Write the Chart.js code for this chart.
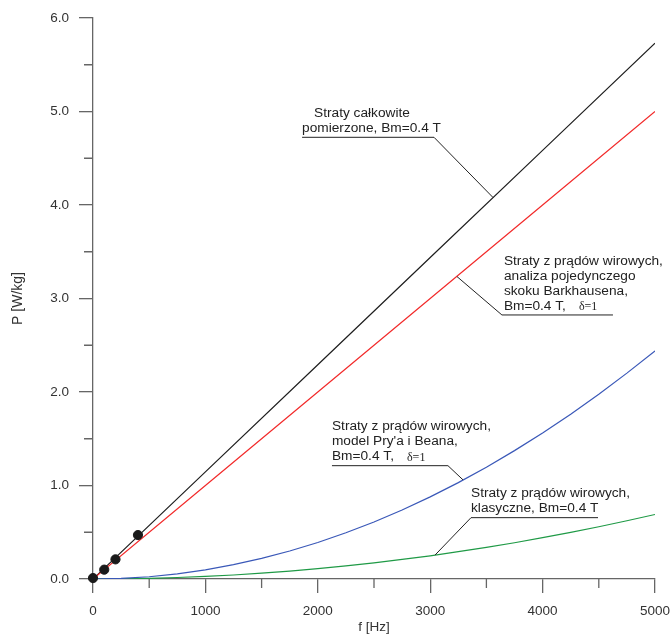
<!DOCTYPE html>
<html>
<head>
<meta charset="utf-8">
<script src="https://cdn.jsdelivr.net/npm/chart.js@4.4.1/dist/chart.umd.min.js"></script>
<style>
  html, body { margin: 0; padding: 0; background: #fff; }
  canvas { display: block; }
</style>
</head>
<body>
<canvas id="myChart" width="670" height="635"></canvas>
<script>
// measured total losses (dots)
const measFreq = [0, 100, 200, 400];
const measLoss = [0.01, 0.10, 0.21, 0.47];

// straight lines
const lineFreq = [0, 1000, 2000, 3000, 4000, 5000];
const totalLoss = [0, 1.146, 2.292, 3.438, 4.584, 5.73];
const barkhausenLoss = [0, 1.0, 2.0, 3.0, 4.0, 5.0];

// curved ones
const curveFreq = [0, 250, 500, 750, 1000, 1250, 1500, 1750, 2000, 2250, 2500,
  2750, 3000, 3250, 3500, 3750, 4000, 4250, 4500, 4750, 5000];
const pryBeanLoss = [0, 0.006, 0.024, 0.055, 0.098, 0.153, 0.22, 0.299, 0.39, 0.494, 0.61,
  0.738, 0.878, 1.031, 1.196, 1.373, 1.562, 1.763, 1.976, 2.202, 2.44];
const classicLoss = [0, 0.002, 0.007, 0.016, 0.028, 0.043, 0.062, 0.085, 0.11, 0.14, 0.173,
  0.209, 0.248, 0.292, 0.338, 0.388, 0.442, 0.499, 0.559, 0.623, 0.69];

const xTickLabels = [0, 1000, 2000, 3000, 4000, 5000];
const yTickLabels = [0, 1, 2, 3, 4, 5, 6];

const FONT = '"Liberation Sans", Arial, sans-serif';
const AXIS = '#666';

function pts(xs, ys) {
  return xs.map((x, i) => ({ x: x, y: ys[i] }));
}

// callouts: underline from -> to, elbow joins the curve at hit
const callouts = [
  { lines: ['Straty całkowite', 'pomierzone, Bm=0.4 T'], indent: [12, 0],
    from: [1860, 4.724], to: [3034, 4.724], elbow: 'right', hit: [3559, 4.08] },
  { lines: ['Straty z prądów wirowych,', 'analiza pojedynczego', 'skoku Barkhausena,', 'Bm=0.4 T,'], indent: [2, 2, 2, 2],
    delta: true, from: [3638, 2.824], to: [4626, 2.824], elbow: 'left', hit: [3238, 3.235] },
  { lines: ['Straty z prądów wirowych,', 'model Pry\'a i Beana,', 'Bm=0.4 T,'], indent: [0, 0, 0],
    delta: true, from: [2126, 1.212], to: [3158, 1.212], elbow: 'right', hit: [3292, 1.06] },
  { lines: ['Straty z prądów wirowych,', 'klasyczne, Bm=0.4 T'], indent: [0, 0],
    from: [3363, 0.656], to: [4493, 0.656], elbow: 'left', hit: [3043, 0.256] }
];

const extras = {
  id: 'extras',
  afterDraw(chart) {
    const ctx = chart.ctx;
    const xs = chart.scales.x, ys = chart.scales.y;
    const area = chart.chartArea;
    ctx.save();
    // minor ticks
    ctx.strokeStyle = AXIS;
    ctx.lineWidth = 1.3;
    ctx.beginPath();
    xs.ticks.forEach(t => {
      if (t.value % 1000 !== 0) {
        const p = xs.getPixelForValue(t.value);
        ctx.moveTo(p, area.bottom);
        ctx.lineTo(p, area.bottom + 9);
      }
    });
    ys.ticks.forEach(t => {
      if (t.value % 1 !== 0) {
        const p = ys.getPixelForValue(t.value);
        ctx.moveTo(area.left, p);
        ctx.lineTo(area.left - 9, p);
      }
    });
    ctx.stroke();

    // callouts
    callouts.forEach(c => {
      const x1 = xs.getPixelForValue(c.from[0]);
      const x2 = xs.getPixelForValue(c.to[0]);
      const y = ys.getPixelForValue(c.from[1]);
      const hx = xs.getPixelForValue(c.hit[0]);
      const hy = ys.getPixelForValue(c.hit[1]);
      const ex = c.elbow === 'left' ? x1 : x2;
      ctx.strokeStyle = '#222';
      ctx.lineWidth = 1;
      ctx.beginPath();
      ctx.moveTo(x1, y);
      ctx.lineTo(x2, y);
      ctx.moveTo(ex, y);
      ctx.lineTo(hx, hy);
      ctx.stroke();

      ctx.fillStyle = '#222';
      ctx.textBaseline = 'middle';
      ctx.textAlign = 'left';
      const n = c.lines.length;
      c.lines.forEach((txt, i) => {
        const ty = y - 9 - (n - 1 - i) * 15;
        const tx = x1 + c.indent[i];
        ctx.font = '13.7px ' + FONT;
        ctx.fillText(txt, tx, ty);
        if (c.delta && i === n - 1) {
          const w = ctx.measureText(txt).width;
          ctx.font = '12px "Liberation Serif", "Times New Roman", serif';
          ctx.fillText('δ=1', tx + w + 13, ty + 1);
        }
      });
    });
    ctx.restore();
  }
};

const ctx = document.getElementById('myChart');
const myChart = new Chart(ctx, {
  type: 'scatter',
  data: {
    datasets: [
      {
        label: 'pomiar',
        data: pts(measFreq, measLoss),
        showLine: false,
        pointRadius: 4.6,
        pointBackgroundColor: '#1a1a1a',
        pointBorderColor: '#1a1a1a',
        clip: false,
        order: 0
      },
      {
        label: 'Straty całkowite',
        data: pts(lineFreq, totalLoss),
        showLine: true,
        borderColor: '#1e1e1e',
        borderWidth: 1.2,
        pointRadius: 0,
        order: 2
      },
      {
        label: 'Barkhausen',
        data: pts(lineFreq, barkhausenLoss),
        showLine: true,
        borderColor: '#f22a2a',
        borderWidth: 1.2,
        pointRadius: 0,
        order: 1
      },
      {
        label: 'Pry i Bean',
        data: pts(curveFreq, pryBeanLoss),
        showLine: true,
        borderColor: '#3a58b8',
        borderWidth: 1.2,
        pointRadius: 0,
        order: 3
      },
      {
        label: 'klasyczne',
        data: pts(curveFreq, classicLoss),
        showLine: true,
        borderColor: '#1f9a46',
        borderWidth: 1.2,
        pointRadius: 0,
        order: 4
      }
    ]
  },
  options: {
    responsive: false,
    animation: false,
    layout: { padding: { left: 0, right: 15, top: 18, bottom: 0 } },
    plugins: {
      legend: { display: false },
      tooltip: { enabled: false }
    },
    scales: {
      x: {
        type: 'linear',
        min: 0,
        max: 5000,
        afterFit: s => {
          s.height = 56;
          s.paddingLeft = 0;
          s.paddingRight = 0;
        },
        border: { display: true, color: AXIS, width: 1.3 },
        grid: {
          drawOnChartArea: false,
          tickLength: 14,
          lineWidth: 1.3,
          color: c => (c.tick && c.tick.value % 1000 === 0) ? AXIS : 'rgba(0,0,0,0)'
        },
        ticks: {
          stepSize: 500,
          autoSkip: false,
          maxRotation: 0,
          padding: 10,
          color: '#333',
          font: { family: FONT, size: 13.5 },
          callback: v => xTickLabels.includes(v) ? String(v) : ''
        },
        title: {
          display: true,
          text: 'f [Hz]',
          color: '#333',
          font: { family: FONT, size: 13.5 },
          padding: { top: 0, bottom: 0 }
        }
      },
      y: {
        type: 'linear',
        min: 0,
        max: 6,
        afterFit: s => {
          s.width = 93;
          s.paddingTop = 0;
          s.paddingBottom = 0;
        },
        border: { display: true, color: AXIS, width: 1.3 },
        grid: {
          drawOnChartArea: false,
          tickLength: 14,
          lineWidth: 1.3,
          color: c => (c.tick && c.tick.value % 1 === 0) ? AXIS : 'rgba(0,0,0,0)'
        },
        ticks: {
          stepSize: 0.5,
          autoSkip: false,
          padding: 10,
          color: '#333',
          font: { family: FONT, size: 13.5 },
          callback: v => yTickLabels.includes(v) ? v.toFixed(1) : ''
        },
        title: {
          display: true,
          text: 'P [W/kg]',
          color: '#333',
          font: { family: FONT, size: 14 },
          padding: { top: 10, bottom: 0 }
        }
      }
    }
  },
  plugins: [extras]
});
</script>
</body>
</html>
